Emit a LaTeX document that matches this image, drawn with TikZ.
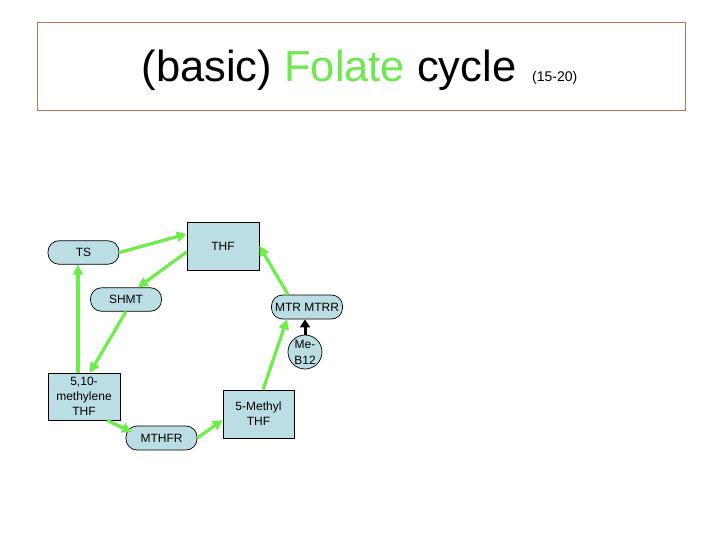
\documentclass[tikz,border=0pt]{standalone}
\usepackage{fontspec}
\setmainfont{Liberation Sans}
\usetikzlibrary{arrows.meta}
\definecolor{boxfill}{RGB}{187,222,228}
\definecolor{arrgreen}{RGB}{108,238,72}
\definecolor{titlegreen}{RGB}{110,232,80}
\definecolor{frameline}{RGB}{196,112,84}
\tikzset{
  base/.style={draw=black, line width=0.7pt, fill=boxfill, font=\fontsize{12}{15}\selectfont, inner sep=0pt, align=center},
  sqbox/.style={base, rectangle, minimum width=72pt, minimum height=48pt},
  pill/.style={base, rectangle, rounded corners=11pt, minimum width=71pt, minimum height=23.5pt},
  circ/.style={base, circle, minimum size=34pt},
  flow/.style={draw=arrgreen, line width=3.2pt, -{Triangle[length=10pt,width=10pt]}},
  blackflow/.style={draw=black, line width=3pt, -{Triangle[length=8pt,width=10pt]}}
}
\begin{document}
\begin{tikzpicture}[x=1pt,y=-1pt]
\useasboundingbox (0,0) rectangle (720,540);
% title frame
\draw[frameline, line width=0.8pt] (37,22) rectangle (685,110);
\node[anchor=base, inner sep=0pt, font=\fontsize{43.5}{48}\selectfont] (title) at (329,82) {(basic) {\color{titlegreen}Folate} cycle};
\node[anchor=base west, inner sep=0pt, font=\fontsize{14}{16}\selectfont] (ref) at (532,82) {(15-20)};
% nodes
\node[pill] (ts) at (83.5,252.5) {TS};
\node[sqbox] (thf) at (223,246) {THF};
\node[pill] (shmt) at (126,299.5) {SHMT};
\node[pill, minimum height=24pt] (mtr) at (307,307) {MTR MTRR};
\node[circ, font=\fontsize{12}{16}\selectfont] (b12) at (305,352) {Me-\\B12};
\node[sqbox, minimum height=47pt] (m510) at (84,396.5) {5,10-\\methylene\\THF};
\node[sqbox, minimum width=71pt] (m5) at (258.5,414) {5-Methyl\\THF};
\node[pill, minimum height=24pt] (mthfr) at (161.5,438) {MTHFR};
% connectors
\draw[flow] (ts.east) -- ([yshift=12pt]thf.west);
\draw[flow] ([yshift=-6pt]thf.west) -- ([xshift=12pt]shmt.north);
\draw[flow] (shmt.south) -- ([xshift=6pt]m510.north);
\draw[flow] ([xshift=-6pt]m510.north) -- ([xshift=-5.5pt]ts.south);
\draw[flow] ([xshift=23pt]m510.south) -- ([xshift=-29.5pt,yshift=6pt]mthfr.center);
\draw[flow] (mthfr.east) -- ([yshift=-6pt]m5.west);
\draw[flow] ([xshift=4.5pt]m5.north) -- ([xshift=-20pt]mtr.south);
\draw[flow] ([xshift=-19pt]mtr.north) -- (thf.east);
\draw[blackflow] (b12.north) -- ([xshift=-2pt]mtr.south);
\end{tikzpicture}
\end{document}
